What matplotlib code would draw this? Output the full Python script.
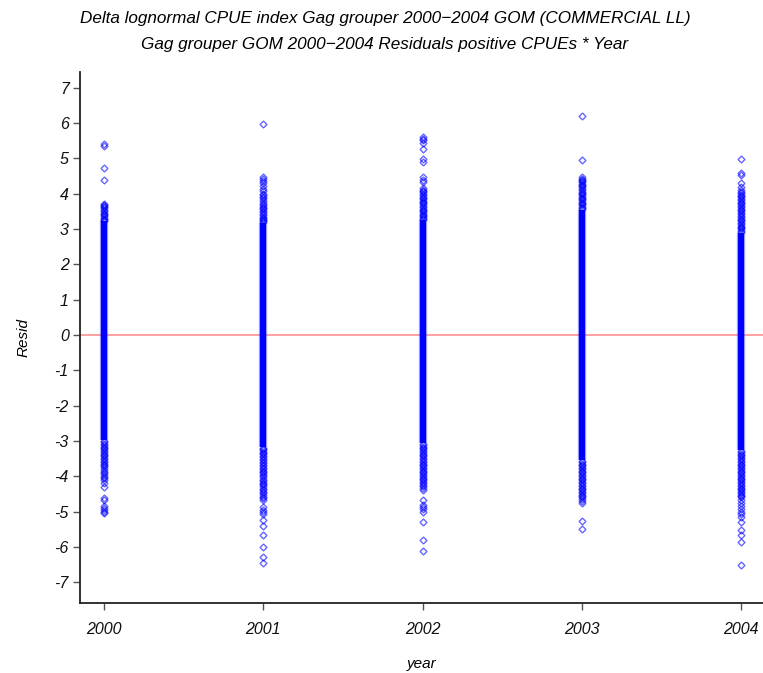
import matplotlib
matplotlib.use("Agg")
import matplotlib.pyplot as plt

# Residuals of positive CPUEs by year (Gag grouper, GOM commercial longline)
years = [2000, 2001, 2002, 2003, 2004]

# Extent of the dense, fully overlapping body of residuals in each year
core_lo = [-2.97, -3.16, -3.06, -3.54, -3.26]
core_hi = [3.22, 3.17, 3.26, 3.54, 2.89]

# Individually visible residuals above / below the dense body
resid_2000 = [5.40, 5.36, 4.74, 4.39, 3.70, 3.68, 3.66, 3.64, 3.60, 3.55, 3.51, 3.47,
              3.43, 3.40, 3.36, 3.32, 3.29, 3.26, 3.24,
              -3.00, -3.04, -3.08, -3.12, -3.16, -3.20, -3.24, -3.28, -3.32, -3.36,
              -3.40, -3.44, -3.48, -3.52, -3.56, -3.60, -3.64, -3.68, -3.72, -3.77,
              -3.82, -3.87, -3.92, -3.97, -4.02, -4.06, -4.11, -4.20, -4.30, -4.62,
              -4.66, -4.85, -4.90, -4.95, -5.00, -5.05]
resid_2001 = [5.97, 4.47, 4.42, 4.36, 4.30, 4.22, 4.15, 4.08, 4.00, 3.96, 3.92, 3.87,
              3.82, 3.76, 3.72, 3.68, 3.64, 3.60, 3.56, 3.52, 3.48, 3.44, 3.40, 3.35,
              3.31, 3.28, 3.25, 3.22, 3.19,
              -3.19, -3.22, -3.26, -3.30, -3.34, -3.38, -3.42, -3.46, -3.50, -3.55,
              -3.59, -3.63, -3.68, -3.72, -3.76, -3.80, -3.84, -3.88, -3.92, -3.96,
              -4.00, -4.05, -4.10, -4.14, -4.18, -4.22, -4.26, -4.30, -4.35, -4.40,
              -4.44, -4.48, -4.53, -4.58, -4.62, -4.67, -4.86, -4.95, -5.00, -5.06,
              -5.24, -5.40, -5.67, -6.00, -6.28, -6.45]
resid_2002 = [5.60, 5.55, 5.52, 5.45, 5.26, 4.98, 4.91, 4.47, 4.40, 4.34, 4.16, 4.12,
              4.08, 4.04, 4.00, 3.96, 3.92, 3.88, 3.85, 3.81, 3.78, 3.74, 3.70, 3.66,
              3.62, 3.58, 3.55, 3.51, 3.48, 3.44, 3.40, 3.37, 3.34, 3.30, 3.28,
              -3.09, -3.12, -3.16, -3.20, -3.24, -3.28, -3.32, -3.36, -3.40, -3.44,
              -3.48, -3.52, -3.56, -3.60, -3.64, -3.68, -3.72, -3.76, -3.80, -3.84,
              -3.88, -3.92, -3.96, -4.00, -4.04, -4.08, -4.12, -4.16, -4.20, -4.24,
              -4.28, -4.32, -4.39, -4.67, -4.82, -4.88, -4.94, -5.00, -5.29, -5.81,
              -6.11]
resid_2003 = [6.21, 4.96, 4.47, 4.43, 4.40, 4.36, 4.33, 4.29, 4.25, 4.21, 4.18, 4.14,
              4.10, 4.06, 4.03, 3.99, 3.96, 3.92, 3.89, 3.85, 3.82, 3.78, 3.75, 3.71,
              3.68, 3.64, 3.61, 3.58,
              -3.57, -3.60, -3.64, -3.68, -3.72, -3.76, -3.80, -3.84, -3.88, -3.92,
              -3.96, -4.00, -4.04, -4.08, -4.12, -4.16, -4.20, -4.24, -4.28, -4.32,
              -4.36, -4.40, -4.44, -4.48, -4.52, -4.56, -4.60, -4.64, -4.70, -4.75,
              -5.26, -5.50]
resid_2004 = [4.99, 4.58, 4.52, 4.30, 4.20, 4.10, 4.06, 4.02, 3.98, 3.94, 3.90, 3.86,
              3.82, 3.78, 3.74, 3.70, 3.66, 3.62, 3.58, 3.54, 3.50, 3.46, 3.42, 3.38,
              3.34, 3.30, 3.26, 3.22, 3.18, 3.14, 3.10, 3.06, 3.02, 2.99, 2.96, 2.92,
              -3.29, -3.32, -3.36, -3.40, -3.44, -3.48, -3.52, -3.56, -3.60, -3.64,
              -3.68, -3.72, -3.76, -3.80, -3.84, -3.88, -3.92, -3.96, -4.00, -4.04,
              -4.08, -4.12, -4.16, -4.20, -4.24, -4.28, -4.32, -4.36, -4.40, -4.44,
              -4.48, -4.52, -4.56, -4.60, -4.68, -4.76, -4.84, -4.92, -5.00, -5.08,
              -5.15, -5.29, -5.52, -5.67, -5.87, -6.52]
resid_by_year = [resid_2000, resid_2001, resid_2002, resid_2003, resid_2004]

y_ticks = list(range(-7, 8))
title_lines = ["Delta lognormal CPUE index Gag grouper 2000\u22122004 GOM (COMMERCIAL LL)",
               "Gag grouper GOM 2000\u22122004 Residuals positive CPUEs * Year"]

plt.rcParams["font.family"] = ["Liberation Sans", "DejaVu Sans"]

fig = plt.figure(figsize=(7.63, 6.73), dpi=100)
ax = fig.add_axes([80 / 763, 1 - 603 / 673, 1 - 80 / 763, (603 - 72) / 673])

blue = "#0000ff"
# dense body of each column
ax.vlines(years, core_lo, core_hi, color=blue, alpha=0.35, lw=6.0, zorder=2)
ax.vlines(years, core_lo, core_hi, color=blue, lw=4.4, zorder=3)

# individual residuals as open diamonds
for yr, vals in zip(years, resid_by_year):
    ax.plot([yr] * len(vals), vals, linestyle="none", marker="D", markersize=3.5,
            markerfacecolor="none", markeredgecolor=(0, 0, 1, 0.6),
            markeredgewidth=1.0, zorder=3)

ax.axhline(0, color="#ff9a9a", lw=1.3, zorder=1)

ax.set_xlim(1999.849, 2004.137)
ax.set_ylim(-7.59, 7.45)
ax.set_xticks(years)
ax.set_xticklabels([str(y) for y in years])
ax.set_yticks(y_ticks)
ax.set_yticklabels([str(t) for t in y_ticks])

for s in ("top", "right"):
    ax.spines[s].set_visible(False)
for s in ("left", "bottom"):
    ax.spines[s].set_color("#222222")
    ax.spines[s].set_linewidth(1.3)

ax.tick_params(axis="both", direction="out", length=5, width=1.0, color="#555555",
               labelsize=11.5, labelcolor="#111111")
ax.tick_params(axis="x", pad=9)
ax.tick_params(axis="y", pad=3)
for lab in ax.get_xticklabels() + ax.get_yticklabels():
    lab.set_fontstyle("italic")

ax.set_xlabel("year", fontsize=11, fontstyle="italic", labelpad=14)
ax.set_ylabel("Resid", fontsize=11, fontstyle="italic", labelpad=17)

fig.text(385 / 763, 1 - 18 / 673, title_lines[0], ha="center", va="center",
         fontsize=12.3, fontstyle="italic")
fig.text(385 / 763, 1 - 44 / 673, title_lines[1], ha="center", va="center",
         fontsize=12.3, fontstyle="italic")

fig.savefig("out.png", dpi=100)
